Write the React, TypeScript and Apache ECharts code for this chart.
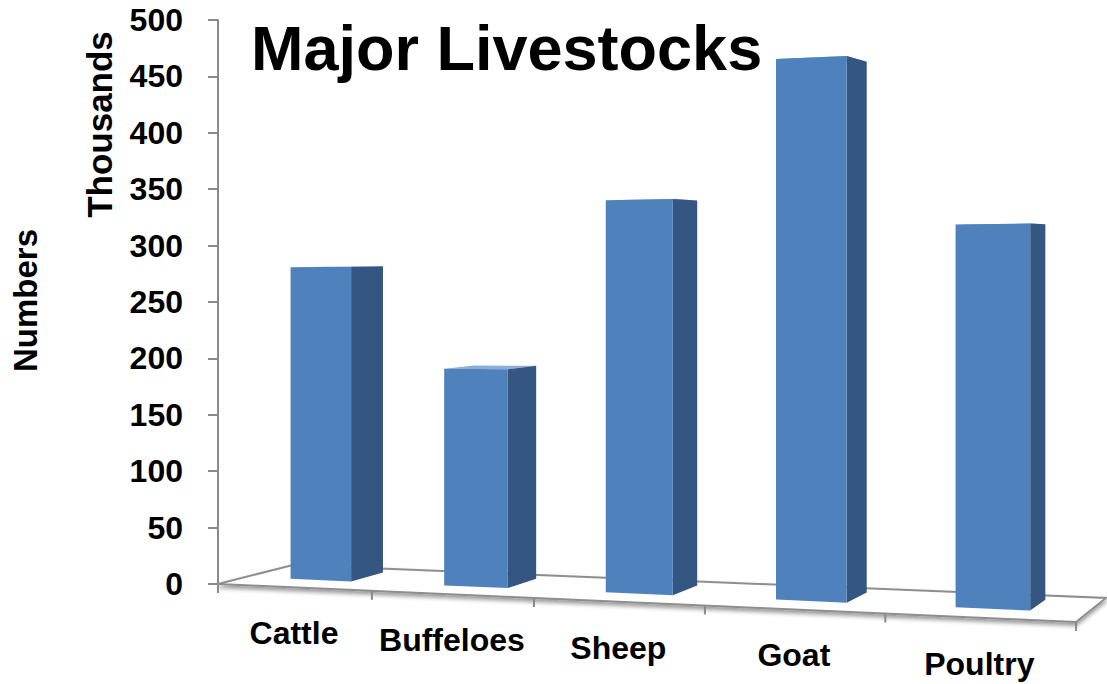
import React, { useEffect, useRef } from "react";
import * as echarts from "echarts";

// Livestock population, in thousands of head
const categories = ["Cattle", "Buffeloes", "Sheep", "Goat", "Poultry"];
const headCounts = [280, 190, 335, 450, 310];

const valueAxisMin = 0;
const valueAxisMax = 500;
const valueAxisStep = 50;

const chartTitle = "Major Livestocks";
const unitLabel = "Thousands";
const valueAxisName = "Numbers";

const FONT = '"Liberation Sans", Arial, Helvetica, sans-serif';

// 3-D floor perspective: screen point = (linear position + depth shift) / divisor
const DIV_PER_CAT = -0.0251;
const DIV_PER_DEPTH = 0.06;
const DX_PER_DEPTH = 92.5;
const DY_PER_DEPTH = 14.9;
const DY_PER_CAT = -8.02;

// Column footprint inside each category slot and floor depth
const BAR_HALF_WIDTH = 0.2;
const BAR_FRONT = 0.36;
const BAR_BACK = 0.82;

type Pt = [number, number];

function projector(api: any) {
  const band = api.size([1, 0])[0];
  const left = api.coord([0, 0])[0] - band / 2;
  return (x: number, z: number, v: number): Pt => {
    const d = 1 + DIV_PER_CAT * x + DIV_PER_DEPTH * z;
    const yv = api.coord([0, v])[1];
    return [
      (left + band * x + DX_PER_DEPTH * z) / d,
      (yv + DY_PER_CAT * x + DY_PER_DEPTH * z) / d,
    ];
  };
}

function renderFloor(params: any, api: any) {
  if (params.dataIndex !== 0) return null;
  const p = projector(api);
  const n = categories.length;
  const children: any[] = [];
  children.push({
    type: "polygon",
    shape: { points: [p(0, 0, 0), p(n, 0, 0), p(n, 1, 0), p(0, 1, 0)] },
    style: {
      fill: "#ffffff",
      stroke: "#8e8e8e",
      lineWidth: 2,
      shadowBlur: 4,
      shadowColor: "rgba(0,0,0,0.4)",
      shadowOffsetY: 3,
    },
  });
  for (let k = 0; k <= n; k++) {
    const [x, y] = p(k, 0, 0);
    children.push({
      type: "line",
      shape: { x1: x, y1: y, x2: x, y2: y + 9 },
      style: { stroke: "#8a8a8a", lineWidth: 2 },
    });
  }
  categories.forEach((name, i) => {
    const [x, y] = p(i + 0.5, 0, 0);
    children.push({
      type: "text",
      x,
      y: y + 46,
      style: {
        text: name,
        fill: "#000",
        fontSize: 32,
        fontWeight: "bold",
        fontFamily: FONT,
        align: "center",
        verticalAlign: "middle",
      },
    });
  });
  return { type: "group", children };
}

function renderColumn(params: any, api: any) {
  const p = projector(api);
  const i = params.dataIndex;
  const v = api.value(1);
  const x0 = i + 0.5 - BAR_HALF_WIDTH;
  const x1 = i + 0.5 + BAR_HALF_WIDTH;
  const top = [p(x0, BAR_FRONT, v), p(x1, BAR_FRONT, v), p(x1, BAR_BACK, v), p(x0, BAR_BACK, v)];
  const side = [p(x1, BAR_FRONT, 0), p(x1, BAR_BACK, 0), p(x1, BAR_BACK, v), p(x1, BAR_FRONT, v)];
  const front = [p(x0, BAR_FRONT, 0), p(x1, BAR_FRONT, 0), p(x1, BAR_FRONT, v), p(x0, BAR_FRONT, v)];
  return {
    type: "group",
    children: [
      { type: "polygon", shape: { points: top }, style: { fill: "#8aaedb" } },
      { type: "polygon", shape: { points: side }, style: { fill: "#345680" } },
      { type: "polygon", shape: { points: front }, style: { fill: "#4f81bd" } },
    ],
  };
}

export default function App() {
  const ref = useRef<HTMLDivElement>(null);

  useEffect(() => {
    if (!ref.current) return;
    const chart = echarts.init(ref.current, undefined, { renderer: "svg" });
    chart.setOption({
      animation: false,
      backgroundColor: "#ffffff",
      title: {
        text: chartTitle,
        left: 251,
        top: 16,
        padding: 0,
        textStyle: { fontSize: 63, fontWeight: "bold", fontFamily: FONT, color: "#000" },
      },
      grid: { left: 218, width: 723, top: 20, height: 564, containLabel: false },
      xAxis: {
        type: "category",
        data: categories,
        axisLine: { show: false },
        axisTick: { show: false },
        axisLabel: { show: false },
        splitLine: { show: false },
      },
      yAxis: {
        type: "value",
        min: valueAxisMin,
        max: valueAxisMax,
        interval: valueAxisStep,
        axisLine: { show: true, lineStyle: { color: "#8a8a8a", width: 2 } },
        axisTick: { show: true, inside: false, length: 10, lineStyle: { color: "#8a8a8a", width: 2 } },
        axisLabel: { margin: 35, color: "#000", fontSize: 32, fontWeight: "bold", fontFamily: FONT },
        splitLine: { show: false },
      },
      graphic: [
        {
          type: "text",
          x: 99,
          y: 124.5,
          rotation: Math.PI / 2,
          style: {
            text: unitLabel,
            fill: "#000",
            fontSize: 35,
            fontWeight: "bold",
            fontFamily: FONT,
            align: "center",
            verticalAlign: "middle",
          },
        },
        {
          type: "text",
          x: 25.6,
          y: 300.5,
          rotation: Math.PI / 2,
          style: {
            text: valueAxisName,
            fill: "#000",
            fontSize: 33,
            fontWeight: "bold",
            fontFamily: FONT,
            align: "center",
            verticalAlign: "middle",
          },
        },
      ],
      series: [
        {
          type: "custom",
          name: "floor",
          coordinateSystem: "cartesian2d",
          clip: false,
          z: 1,
          silent: true,
          data: [[0, 0]],
          renderItem: renderFloor,
        },
        {
          type: "custom",
          name: "Livestock",
          coordinateSystem: "cartesian2d",
          clip: false,
          z: 2,
          data: headCounts.map((v, i) => [i, v]),
          encode: { x: 0, y: 1 },
          renderItem: renderColumn,
        },
      ],
    });
    return () => chart.dispose();
  }, []);

  return (
    <div
      ref={ref}
      style={{ position: "fixed", left: 0, top: 0, width: 1107, height: 684, background: "#fff" }}
    />
  );
}
